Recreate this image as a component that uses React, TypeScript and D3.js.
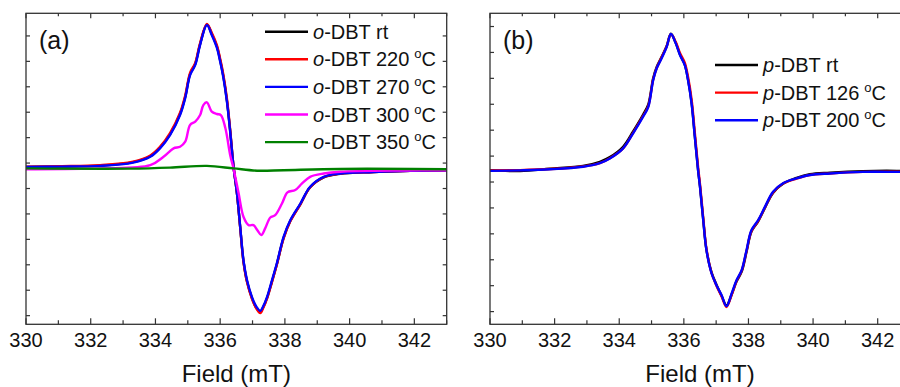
import React from 'react';
import * as d3 from 'd3';

const W = 900;
const H = 387;
const FONT = '"Liberation Sans", Arial, Helvetica, sans-serif';

// axes
const xTicks = [330, 332, 334, 336, 338, 340, 342];
const xMinorTicks = [331, 333, 335, 337, 339, 341, 343];
const yTicks = [-6, -5, -4, -3, -2, -1, 0, 1, 2, 3, 4, 5];

// (a) o-DBT, field in mT, intensity in a.u.
const fieldA = [330.00, 331.05, 332.29, 333.31, 333.84, 334.14, 334.45, 334.76, 334.92, 335.07, 335.23, 335.38, 335.59, 335.74, 335.90, 336.00, 336.10, 336.21, 336.31, 336.41, 336.52, 336.62, 336.72, 336.83, 336.98, 337.11, 337.24, 337.33, 337.45, 337.60, 337.75, 337.96, 338.17, 338.48, 338.78, 339.20, 339.71, 340.73, 341.88, 343.00];
const oRt = [-0.15, -0.14, -0.10, 0.04, 0.27, 0.61, 1.13, 1.93, 2.60, 3.50, 3.90, 4.68, 5.45, 5.08, 4.58, 4.04, 3.40, 2.45, 1.26, -0.11, -1.21, -2.55, -3.86, -4.66, -5.30, -5.68, -5.85, -5.67, -5.30, -4.66, -3.99, -2.94, -2.27, -1.61, -0.95, -0.56, -0.42, -0.35, -0.30, -0.28];
const o220 = [-0.14, -0.12, -0.08, 0.06, 0.30, 0.64, 1.18, 1.98, 2.66, 3.55, 3.94, 4.72, 5.47, 5.12, 4.63, 4.10, 3.47, 2.52, 1.30, -0.10, -1.20, -2.55, -3.88, -4.68, -5.33, -5.70, -5.90, -5.70, -5.32, -4.68, -4.00, -2.96, -2.28, -1.62, -0.95, -0.55, -0.41, -0.35, -0.30, -0.28];
const o270 = [-0.15, -0.14, -0.11, 0.02, 0.25, 0.58, 1.10, 1.89, 2.56, 3.46, 3.86, 4.65, 5.43, 5.04, 4.53, 3.99, 3.35, 2.41, 1.23, -0.12, -1.19, -2.51, -3.82, -4.61, -5.26, -5.63, -5.81, -5.63, -5.26, -4.61, -3.95, -2.90, -2.24, -1.59, -0.93, -0.54, -0.41, -0.35, -0.30, -0.28];

const field300 = [330.00, 332.29, 333.84, 334.25, 334.56, 334.76, 334.92, 335.07, 335.23, 335.38, 335.48, 335.59, 335.74, 335.90, 336.02, 336.16, 336.31, 336.41, 336.57, 336.72, 336.88, 337.03, 337.15, 337.27, 337.39, 337.55, 337.70, 337.91, 338.08, 338.32, 338.53, 338.78, 339.20, 339.71, 341.78, 343.00];
const o300 = [-0.24, -0.21, -0.08, 0.25, 0.58, 0.64, 0.84, 1.50, 1.63, 1.89, 2.28, 2.39, 2.02, 1.93, 1.89, 1.38, 0.31, -0.20, -1.19, -2.11, -2.44, -2.44, -2.64, -2.83, -2.57, -2.14, -2.05, -1.59, -1.15, -1.06, -0.80, -0.54, -0.41, -0.34, -0.29, -0.28];

const field350 = [330.00, 333.22, 334.45, 335.59, 336.41, 337.14, 337.96, 339.71, 343.00];
const o350 = [-0.21, -0.22, -0.18, -0.11, -0.21, -0.30, -0.28, -0.23, -0.24];

// (b) p-DBT
const fieldB = [330.00, 330.93, 331.86, 332.88, 333.40, 333.71, 334.12, 334.43, 334.74, 334.90, 335.05, 335.16, 335.31, 335.47, 335.60, 335.75, 335.88, 336.03, 336.13, 336.24, 336.34, 336.44, 336.50, 336.60, 336.70, 336.86, 337.01, 337.17, 337.32, 337.48, 337.63, 337.79, 337.94, 338.09, 338.30, 338.51, 338.76, 339.07, 339.49, 339.90, 340.52, 341.54, 342.59, 343.00];
const pRt = [-0.54, -0.58, -0.49, -0.38, -0.22, -0.04, 0.36, 0.95, 1.60, 2.00, 3.00, 3.44, 3.82, 4.25, 4.72, 4.36, 3.92, 3.52, 2.95, 2.05, 0.76, -0.53, -1.18, -2.45, -3.62, -4.50, -4.96, -5.40, -5.76, -5.34, -4.84, -4.46, -3.70, -2.92, -2.52, -2.00, -1.42, -1.07, -0.84, -0.70, -0.64, -0.58, -0.57, -0.60];
const p126 = [-0.55, -0.54, -0.50, -0.40, -0.27, -0.08, 0.30, 0.90, 1.55, 1.93, 2.95, 3.40, 3.80, 4.24, 4.70, 4.40, 3.98, 3.60, 3.05, 2.18, 0.90, -0.42, -1.08, -2.38, -3.58, -4.52, -5.00, -5.42, -5.82, -5.35, -4.82, -4.42, -3.66, -2.90, -2.50, -1.98, -1.40, -1.06, -0.87, -0.73, -0.67, -0.61, -0.60, -0.60];
const p200 = [-0.57, -0.55, -0.51, -0.41, -0.27, -0.09, 0.30, 0.88, 1.52, 1.90, 2.93, 3.39, 3.77, 4.22, 4.71, 4.35, 3.90, 3.51, 2.93, 2.03, 0.75, -0.54, -1.19, -2.47, -3.63, -4.53, -4.98, -5.37, -5.79, -5.30, -4.79, -4.40, -3.63, -2.86, -2.47, -1.96, -1.38, -1.05, -0.86, -0.73, -0.67, -0.61, -0.61, -0.61];

interface Series {
  field: number[];
  values: number[];
  color: string;
  temp: string;
}

const seriesA: Series[] = [
  { field: fieldA, values: oRt, color: '#000000', temp: 'rt' },
  { field: fieldA, values: o220, color: '#ff0000', temp: '220' },
  { field: fieldA, values: o270, color: '#0000ff', temp: '270' },
  { field: field300, values: o300, color: '#ff00ff', temp: '300' },
  { field: field350, values: o350, color: '#008000', temp: '350' },
];

const seriesB: Series[] = [
  { field: fieldB, values: pRt, color: '#000000', temp: 'rt' },
  { field: fieldB, values: p126, color: '#ff0000', temp: '126' },
  { field: fieldB, values: p200, color: '#0000ff', temp: '200' },
];

const TOP = 13.3;
const BOTTOM = 324.3;
const AXIS = '#333333';

interface PanelProps {
  id: string;
  left: number;
  right: number;
  yDomain: [number, number];
  series: Series[];
  prefix: string;
  tag: string;
  legendX: number;
  legendY: number;
}

function Panel({ id, left, right, yDomain, series, prefix, tag, legendX, legendY }: PanelProps) {
  const x = d3.scaleLinear().domain([330, 343]).range([left, right]);
  const y = d3.scaleLinear().domain(yDomain).range([BOTTOM, TOP]);
  const line = d3.line<[number, number]>()
    .x(d => x(d[0]))
    .y(d => y(d[1]))
    .curve(d3.curveCatmullRom.alpha(0.5));

  const rowH = 27.6;

  return (
    <g>
      <defs>
        <clipPath id={id}>
          <rect x={left} y={TOP} width={right - left} height={BOTTOM - TOP} />
        </clipPath>
      </defs>

      {/* curves */}
      <g clipPath={`url(#${id})`}>
        {series.map((s, i) => (
          <path
            key={i}
            d={line(d3.zip(s.field, s.values) as [number, number][]) || ''}
            fill="none"
            stroke={s.color}
            strokeWidth={2.4}
            strokeLinejoin="round"
          />
        ))}
      </g>

      {/* frame */}
      <rect x={left} y={TOP} width={right - left} height={BOTTOM - TOP} fill="none" stroke={AXIS} strokeWidth={1.3} />

      {/* x ticks */}
      {xTicks.map(t => (
        <g key={'M' + t}>
          <line x1={x(t)} x2={x(t)} y1={BOTTOM} y2={BOTTOM - 6} stroke={AXIS} strokeWidth={1.2} />
          <line x1={x(t)} x2={x(t)} y1={TOP} y2={TOP + 5} stroke={AXIS} strokeWidth={1.2} />
          <text x={x(t)} y={347} textAnchor="middle" fontSize={20} fontFamily={FONT} fill="#111">{t}</text>
        </g>
      ))}
      {xMinorTicks.map(t => (
        <g key={'m' + t}>
          <line x1={x(t)} x2={x(t)} y1={BOTTOM} y2={BOTTOM - 4} stroke={AXIS} strokeWidth={1.2} />
          <line x1={x(t)} x2={x(t)} y1={TOP} y2={TOP + 3} stroke={AXIS} strokeWidth={1.2} />
        </g>
      ))}

      {/* y ticks, no labels */}
      {yTicks.map(t => (
        <g key={'y' + t}>
          <line x1={left} x2={left + 4} y1={y(t)} y2={y(t)} stroke={AXIS} strokeWidth={1.2} />
          <line x1={right} x2={right - 4} y1={y(t)} y2={y(t)} stroke={AXIS} strokeWidth={1.2} />
        </g>
      ))}

      <text x={(left + right) / 2} y={382} textAnchor="middle" fontSize={24} fontFamily={FONT} fill="#111">Field (mT)</text>

      <text x={left + 13} y={49} fontSize={25} fontFamily={FONT} fill="#111">{tag}</text>

      {/* legend */}
      {series.map((s, i) => {
        const cy = legendY + i * rowH;
        return (
          <g key={'l' + i}>
            <line x1={legendX} x2={legendX + 43} y1={cy} y2={cy} stroke={s.color} strokeWidth={2.4} />
            <text x={legendX + 48} y={cy + 7} fontSize={20} fontFamily={FONT} fill="#111">
              <tspan fontStyle="italic">{prefix}</tspan>
              <tspan>{`-DBT ${s.temp}`}</tspan>
              {s.temp !== 'rt' && (
                <>
                  <tspan dx={5} dy={-8} fontSize={13}>o</tspan>
                  <tspan dy={8}>C</tspan>
                </>
              )}
            </text>
          </g>
        );
      })}
    </g>
  );
}

export default function App() {
  return (
    <div style={{ position: 'absolute', left: 0, top: 0 }}>
      <svg width={W} height={H} style={{ display: 'block', background: '#fff' }}>
        <rect x={0} y={0} width={W} height={H} fill="#fff" />
        <Panel id="clipA" left={26} right={446.7} yDomain={[-6.34, 5.89]} series={seriesA}
          prefix="o" tag="(a)" legendX={265} legendY={31.7} />
        <Panel id="clipB" left={490} right={910} yDomain={[-6.49, 5.51]} series={seriesB}
          prefix="p" tag="(b)" legendX={715} legendY={65} />
      </svg>
    </div>
  );
}
